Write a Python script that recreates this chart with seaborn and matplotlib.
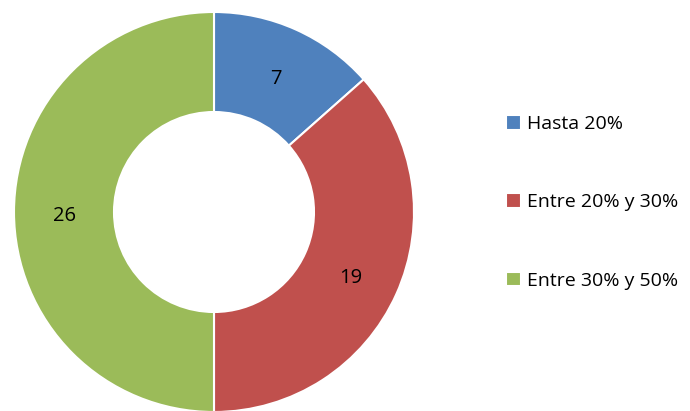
import numpy as np
import matplotlib
matplotlib.use('Agg')
import matplotlib.pyplot as plt
import seaborn as sns

labels = ['Hasta 20%', 'Entre 20% y 30%', 'Entre 30% y 50%']
values = [7, 19, 26]
colors = ['#4F81BD', '#C0504D', '#9BBB59']

sns.set_theme(style='white')
plt.rcParams['font.family'] = ['Open Sans', 'DejaVu Sans']

fig = plt.figure(figsize=(6.9, 4.11), dpi=100)
ax = fig.add_axes([14 / 690, -1 / 411, 400 / 690, 400 / 411])

wedges, texts = ax.pie(
    values, colors=colors, startangle=90, counterclock=False,
    radius=1.0, wedgeprops=dict(width=0.5, edgecolor='white', linewidth=1.5),
)
# value labels in the middle of the ring
for w, v in zip(wedges, values):
    ang = np.deg2rad((w.theta1 + w.theta2) / 2)
    ax.text(0.75 * np.cos(ang), 0.75 * np.sin(ang) - 0.02, str(v),
            ha='center', va='center', fontsize=14.5, color='black')
ax.set_xlim(-1, 1)
ax.set_ylim(-1, 1)
ax.set_aspect('equal')
ax.axis('off')

fig.legend(wedges, labels, loc='center left', bbox_to_anchor=(496 / 690, 0.508),
           frameon=False, fontsize=14, handlelength=0.8, handleheight=0.8,
           handletextpad=0.3, labelspacing=3.1, borderpad=0, labelcolor='black')

fig.savefig('out.png', dpi=100)
